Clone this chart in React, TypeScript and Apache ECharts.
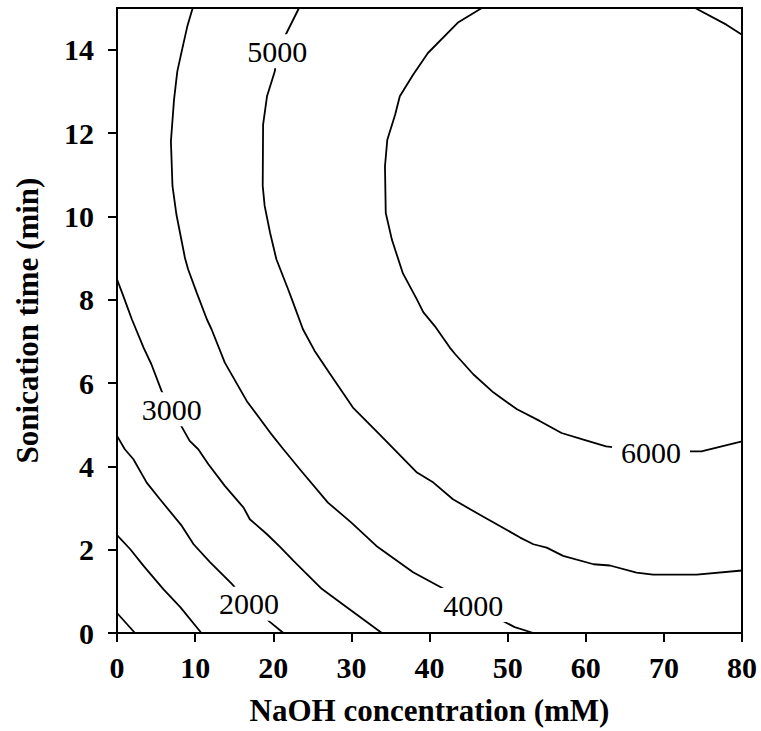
import React, { useEffect, useRef } from "react";
import * as echarts from "echarts";

const xTicks = [0, 10, 20, 30, 40, 50, 60, 70, 80];
const yTicks = [0, 2, 4, 6, 8, 10, 12, 14];

const c0 = [[0, 0.48], [2.3, 0]];
const c1000 = [[0, 2.35], [1.7, 2.01], [3.4, 1.61], [5.9, 1.06], [8.1, 0.62], [10.8, 0]];
const c2000 = [[0, 4.73], [1.0, 4.41], [2.1, 4.17], [3.8, 3.61], [5.5, 3.21], [8.3, 2.57], [9.8, 2.13], [11.9, 1.7], [14.7, 1.18], [16.9, 0.7], [19.6, 0.26], [21.3, 0]];
const c3000 = [[0, 8.49], [0.8, 8.09], [1.9, 7.53], [3.4, 6.85], [4.4, 6.45], [5.7, 5.81], [7.0, 5.37], [8.4, 4.91], [9.3, 4.61], [10.4, 4.41], [11.7, 4.05], [13.8, 3.53], [16.2, 3.01], [17.0, 2.73], [19.2, 2.37], [20.9, 2.06], [22.6, 1.73], [26.2, 1.06], [28.8, 0.7], [33.9, 0]];
const c4000 = [[9.69, 15], [9.0, 14.56], [8.28, 13.96], [7.72, 13.48], [7.3, 12.8], [6.9, 11.8], [7.1, 10.73], [7.6, 10.05], [8.7, 9.0], [9.1, 8.73], [10.2, 8.17], [11.5, 7.53], [12.1, 7.29], [13.8, 6.49], [16.6, 5.57], [19.6, 4.81], [21.3, 4.41], [23.4, 3.93], [27.0, 3.13], [30.0, 2.65], [33.2, 2.09], [37.9, 1.46], [41.8, 1.06], [45.6, 0.67], [50.9, 0.14], [53.3, 0]];
const c5000 = [[23.3, 15], [21.7, 14.4], [20.5, 13.96], [20.2, 13.48], [19.2, 12.88], [18.7, 12.2], [18.65, 10.73], [18.9, 10.25], [19.6, 9.6], [20.4, 8.97], [21.9, 8.25], [22.4, 8.0], [23.8, 7.29], [25.3, 6.77], [27.3, 6.21], [30.2, 5.41], [33.7, 4.75], [38.4, 3.85], [40.5, 3.61], [43.0, 3.21], [46.5, 2.83], [49.0, 2.57], [51.6, 2.29], [53.3, 2.13], [55.0, 2.05], [57.1, 1.85], [61.0, 1.65], [63.1, 1.62], [66.5, 1.45], [68.6, 1.4], [74.2, 1.4], [80, 1.5]];
const c6000a = [[46.7, 15], [43.7, 14.66], [39.8, 13.92], [37.9, 13.4], [36.2, 12.88], [35.6, 12.44], [34.6, 11.84], [34.3, 11.2], [34.4, 10.08], [35.2, 9.43], [36.6, 8.63], [38.4, 8.0], [39.2, 7.7], [40.7, 7.36], [42.6, 6.85], [43.3, 6.69], [45.6, 6.21], [48.2, 5.77], [51.2, 5.37], [54.1, 5.09], [56.9, 4.8], [59.7, 4.64], [62.6, 4.48], [68.35, 4.36], [74.8, 4.36], [80, 4.6]];
const c6000b = [[74, 15], [78, 14.6], [80, 14.36]];

const contourLabels = [
  [16.9, 0.7, "2000"],
  [7.0, 5.37, "3000"],
  [45.6, 0.67, "4000"],
  [20.5, 13.96, "5000"],
  [68.35, 4.34, "6000"],
];

const contours = [c0, c1000, c2000, c3000, c4000, c5000, c6000a, c6000b];

const FONT = "'Liberation Serif', 'Times New Roman', serif";

export default function App() {
  const ref = useRef<HTMLDivElement>(null);
  useEffect(() => {
    if (!ref.current) return;
    const chart = echarts.init(ref.current, null, { renderer: "svg" });
    const lineSeries = contours.map((c) => ({
      type: "line",
      data: c,
      showSymbol: false,
      symbol: "none",
      smooth: false,
      z: 2,
      lineStyle: { color: "#000", width: 1.8 },
    }));
    chart.setOption({
      animation: false,
      grid: {
        left: 117,
        right: 19,
        top: 8,
        bottom: 97,
        show: true,
        borderColor: "#000",
        borderWidth: 2,
      },
      xAxis: {
        type: "value",
        min: 0,
        max: 80,
        interval: 10,
        name: "NaOH concentration (mM)",
        nameLocation: "middle",
        nameGap: 62,
        nameTextStyle: { fontFamily: FONT, fontWeight: "bold", fontSize: 31, color: "#000" },
        axisLine: { show: true, lineStyle: { color: "#000", width: 2 } },
        axisTick: { show: true, length: 9, lineStyle: { color: "#000", width: 2 } },
        axisLabel: {
          margin: 19,
          fontFamily: FONT,
          fontWeight: "bold",
          fontSize: 30,
          color: "#000",
          customValues: xTicks,
        },
        splitLine: { show: false },
      },
      yAxis: {
        type: "value",
        min: 0,
        max: 15,
        name: "Sonication time (min)",
        nameLocation: "middle",
        nameGap: 74,
        nameRotate: 90,
        nameTextStyle: { fontFamily: FONT, fontWeight: "bold", fontSize: 31, color: "#000" },
        axisLine: { show: true, lineStyle: { color: "#000", width: 2 } },
        axisTick: { show: true, length: 9, lineStyle: { color: "#000", width: 2 }, customValues: yTicks },
        axisLabel: {
          margin: 23,
          fontFamily: FONT,
          fontWeight: "bold",
          fontSize: 30,
          color: "#000",
          customValues: yTicks,
        },
        splitLine: { show: false },
      },
      series: [
        ...lineSeries,
        {
          type: "scatter",
          data: contourLabels,
          symbolSize: 1,
          z: 10,
          itemStyle: { color: "#fff", opacity: 1 },
          label: {
            show: true,
            position: "inside",
            formatter: (p: any) => p.value[2],
            fontFamily: FONT,
            fontSize: 30,
            color: "#000",
            opacity: 1,
            backgroundColor: "#fff",
            padding: [2, 9],
          },
        },
      ],
    });
    return () => chart.dispose();
  }, []);
  return (
    <div
      ref={ref}
      style={{ position: "fixed", left: 0, top: 0, width: 761, height: 731, background: "#fff" }}
    />
  );
}
